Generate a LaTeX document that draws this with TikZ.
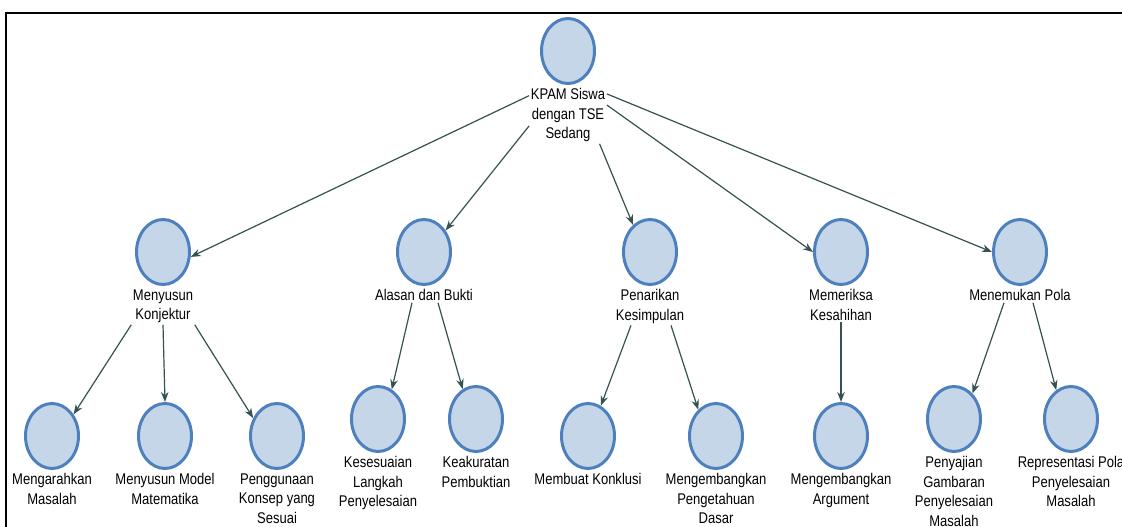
\documentclass[tikz,border=0pt]{standalone}
\usepackage{fontspec}
\setmainfont[FakeStretch=0.84]{Liberation Sans}
\usetikzlibrary{arrows.meta,positioning,shapes.geometric}
\definecolor{bubblefill}{HTML}{C6D6E9}
\definecolor{bubbleline}{HTML}{4E80BE}
\definecolor{linkcol}{HTML}{355252}
\begin{document}
\begin{tikzpicture}[x=1pt,y=-1pt,inner sep=0pt,
>={Stealth[length=10pt,width=7.5pt]},
bubble/.style={draw=bubbleline,fill=bubblefill,ellipse,line width=3pt,minimum width=53pt,minimum height=65pt},
lbl/.style={align=center,inner sep=1.5pt,font=\fontsize{15.5}{19.5}\selectfont,text=black},
link/.style={->,draw=linkcol,line width=1.2pt}]
\clip (0,0) rectangle (1122,527);
\fill[white] (0,0) rectangle (1122,527);
\draw[line width=2.5pt] (6,527) -- (6,13) -- (1122,13);
\draw (568,51) node[bubble] (kpam) {};
\node[lbl,below=2pt of kpam] (kpaml) {KPAM Siswa\\dengan TSE\\Sedang};
\draw (163,252) node[bubble] (konj) {};
\node[lbl,below=2pt of konj] (konjl) {Menyusun\\Konjektur};
\draw (424,252) node[bubble] (alas) {};
\node[lbl,below=2pt of alas] (alasl) {Alasan dan Bukti};
\draw (650,252) node[bubble] (tarik) {};
\node[lbl,below=2pt of tarik] (tarikl) {Penarikan\\Kesimpulan};
\draw (841,252) node[bubble] (periksa) {};
\node[lbl,below=2pt of periksa] (periksal) {Memeriksa\\Kesahihan};
\draw (1020,252) node[bubble] (pola) {};
\node[lbl,below=2pt of pola] (polal) {Menemukan Pola};
\draw (52,436) node[bubble] (arah) {};
\node[lbl,below=2pt of arah] (arahl) {Mengarahkan\\Masalah};
\draw (165,436) node[bubble] (model) {};
\node[lbl,below=2pt of model] (modell) {Menyusun Model\\Matematika};
\draw (277,436) node[bubble] (konsep) {};
\node[lbl,below=2pt of konsep] (konsepl) {Penggunaan\\Konsep yang\\Sesuai};
\draw (378,419) node[bubble] (langkah) {};
\node[lbl,below=2pt of langkah] (langkahl) {Kesesuaian\\Langkah\\Penyelesaian};
\draw (476,419) node[bubble] (akurat) {};
\node[lbl,below=2pt of akurat] (akuratl) {Keakuratan\\Pembuktian};
\draw (588,436) node[bubble] (konklusi) {};
\node[lbl,below=2pt of konklusi] (konklusil) {Membuat Konklusi};
\draw (716,436) node[bubble] (dasar) {};
\node[lbl,below=2pt of dasar] (dasarl) {Mengembangkan\\Pengetahuan\\Dasar};
\draw (841,436) node[bubble] (argumen) {};
\node[lbl,below=2pt of argumen] (argumenl) {Mengembangkan\\Argument};
\draw (954,419) node[bubble] (gambar) {};
\node[lbl,below=2pt of gambar] (gambarl) {Penyajian\\Gambaran\\Penyelesaian\\Masalah};
\draw (1071,419) node[bubble] (repr) {};
\node[lbl,below=2pt of repr] (reprl) {Representasi Pola\\Penyelesaian\\Masalah};
\draw[link] (kpaml.153) -- (konj.-10);
\draw[link] (kpaml.195) -- (alas.45);
\draw[link] (kpaml.-42) -- (tarik.122);
\draw[link] (kpaml.15) -- (periksa.west);
\draw[link] (kpaml.29) -- (pola.west);
\draw[link] (konjl.south west) -- (arah.45);
\draw[link] (konjl.south) -- (model.north);
\draw[link] (konjl.south east) -- (konsep.143);
\draw[link] ([xshift=-12pt]alasl.south) -- (langkah.65);
\draw[link] ([xshift=14pt]alasl.south) -- (akurat.114);
\draw[link] ([xshift=-19pt]tarikl.south) -- (konklusi.67);
\draw[link] ([xshift=21pt]tarikl.south) -- (dasar.124);
\draw[link] (periksal.south) -- (argumen.north);
\draw[link] ([xshift=-16pt]polal.south) -- (gambar.54);
\draw[link] ([xshift=13pt]polal.south) -- (repr.117);
\end{tikzpicture}
\end{document}
